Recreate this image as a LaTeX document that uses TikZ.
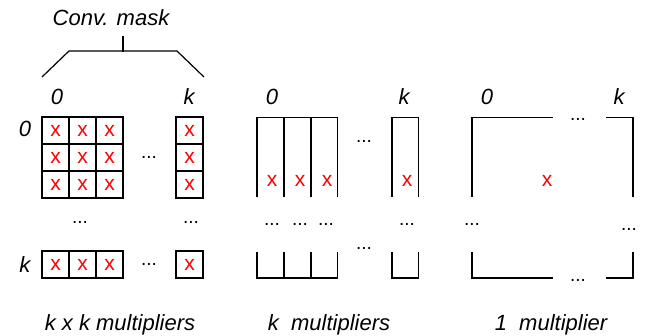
\documentclass[tikz,border=0pt]{standalone}
\usepackage{fontspec}
\setmainfont{Liberation Sans}
\begin{document}
\begin{tikzpicture}[x=1pt,y=-1pt,
  every node/.style={inner sep=0pt,outer sep=0pt},
  wire/.style={line width=1.2pt,line cap=rect},
  cell/.style={draw=black,line width=1.2pt,minimum size=27pt,text=red,
    font=\fontsize{21}{24}\selectfont},
  mark x/.style={text=red,font=\fontsize{21}{24}\selectfont},
  lab/.style={anchor=base,font=\fontsize{22}{25}\selectfont\itshape},
  dotsn/.style={anchor=base,font=\fontsize{19}{22}\selectfont}]
\useasboundingbox (0,0) rectangle (651,336);

% ---- mask label and brace ----
\node[lab] (mask) at (111,26) {Conv. mask};
\coordinate (bt) at (123,37);
\coordinate (bm) at (123,51);
\coordinate (bl) at (69,51);
\coordinate (br) at (177,51);
\coordinate (bll) at (42,77);
\coordinate (brr) at (204,77);
\draw[wire] (bt) -- (bm);
\draw[wire,line cap=butt] (bll) -- (bl) -- (br) -- (brr);

% ---- panel 1: k x k grid of multipliers ----
\node[lab] (p1c0) at (57,105) {0};
\node[lab] (p1ck) at (189,105) {k};
\node[lab] (p1r0) at (25,137) {0};
\node[lab] (p1rk) at (25,273) {k};
\foreach \r/\yy in {1/130.5,2/157.5,3/184.5,k/264.5}{
  \foreach \c/\xx in {1/55.5,2/82.5,3/109.5,k/189.5}{
    \node[cell] (g\r\c) at (\xx,\yy) {x};
  }
}
\node[dotsn] (p1d1) at (149,159) {...};
\node[dotsn] (p1d2) at (80,224) {...};
\node[dotsn] (p1d3) at (191,224) {...};
\node[dotsn] (p1d4) at (149,266) {...};

% ---- panel 2: k column multipliers ----
\node[lab] (p2c0) at (272,105) {0};
\node[lab] (p2ck) at (404,105) {k};
\foreach \i/\l/\rr in {1/257/284,2/284/311,3/311/337.5,k/392/418.5}{
  \draw[wire,line cap=butt] (\l,197) -- (\l,117.5) -- (\rr,117.5) -- (\rr,197);
  \draw[wire,line cap=butt] (\l,252) -- (\l,278) -- (\rr,278) -- (\rr,252);
}
\foreach \i/\xx in {1/272,2/300,3/327,k/407}{
  \node[mark x] (q\i) at (\xx,180.5) {x};
}
\node[dotsn] (p2d1) at (364,143) {...};
\foreach \i/\xx in {1/272,2/300,3/326,k/407}{
  \node[dotsn] (p2m\i) at (\xx,226) {...};
}
\node[dotsn] (p2d2) at (364,250) {...};

% ---- panel 3: single multiplier ----
\node[lab] (p3c0) at (487,105) {0};
\node[lab] (p3ck) at (619,105) {k};
\draw[wire,line cap=butt] (472,197) -- (472,117.5) -- (553,117.5);
\draw[wire,line cap=butt] (606,117.5) -- (633,117.5) -- (633,197);
\draw[wire,line cap=butt] (472,252) -- (472,278) -- (553,278);
\draw[wire,line cap=butt] (606,278) -- (633,278) -- (633,252);
\node[mark x] (s) at (547,180.5) {x};
\node[dotsn] (p3d1) at (578,121) {...};
\node[dotsn] (p3d2) at (578,282) {...};
\node[dotsn] (p3d3) at (472,226) {...};
\node[dotsn] (p3d4) at (629,231) {...};

% ---- captions ----
\node[lab] (cap1) at (120,331) {k x k multipliers};
\node[lab] (cap2) at (329,331) {k\ \ multipliers};
\node[lab] (cap3) at (551,331) {1\ \ multiplier};
\end{tikzpicture}
\end{document}
